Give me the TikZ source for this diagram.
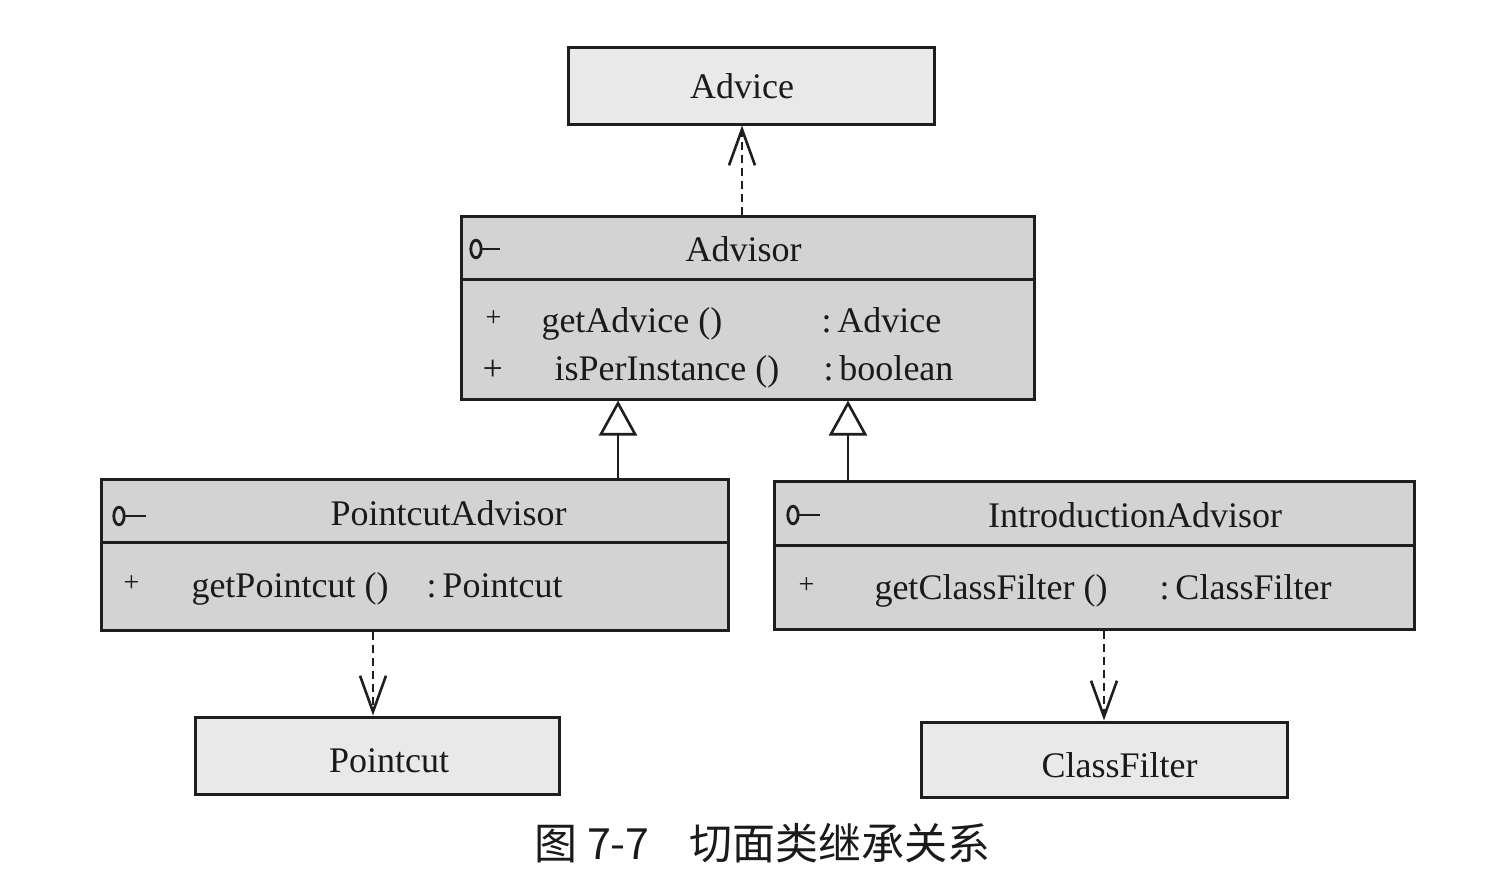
\documentclass[tikz,border=0pt]{standalone}
\usepackage{fontspec}
\setmainfont{Liberation Serif}
\newfontfamily\cjkfont{Noto Sans CJK SC}
\usetikzlibrary{arrows.meta}
\definecolor{linec}{HTML}{1E1E1E}
\definecolor{classfill}{HTML}{D3D3D3}
\definecolor{smallfill}{HTML}{E9E9E9}
\definecolor{textc}{HTML}{1A1A1A}
\begin{document}
\begin{tikzpicture}[x=0.5pt,y=-0.5pt,line width=1.5pt,draw=linec,
  classbox/.style={draw=linec,fill=classfill,inner sep=0pt},
  smallbox/.style={draw=linec,fill=smallfill,inner sep=0pt},
  txt/.style={font=\fontsize{18}{20}\selectfont,text=textc,inner sep=0pt,anchor=base west},
  ttl/.style={font=\fontsize{18}{20}\selectfont,text=textc,inner sep=0pt,anchor=base},
  plus/.style={font=\fontsize{14}{16}\selectfont,text=textc,inner sep=0pt,anchor=base west},
  captxt/.style={font=\cjkfont\fontsize{21.5}{24}\selectfont,text=textc,inner sep=0pt,anchor=base west},
  dep/.style={draw=linec,line width=1.3pt,dash pattern=on 4pt off 2.5pt,-{Straight Barb[length=18pt,width=13pt]}},
  inh/.style={draw=linec,line width=1.3pt,-{Triangle[open,fill=white,length=17.5pt,width=19pt]}},
  icon/.style={draw=linec,line width=1.4pt}]
\useasboundingbox (0,0) rectangle (1488,884);

% ---------- boxes ----------
\node[smallbox,minimum width=183pt,minimum height=38.5pt] (advice) at (751,85.5) {};
\node[ttl] (advicet) at (742,98) {Advice};

\node[classbox,minimum width=286.5pt,minimum height=91.5pt] (advisor) at (747.5,307.5) {};
\draw (advisor.west |- 0,279) -- (advisor.east |- 0,279);
\node[ttl] (advisort) at (743.5,261) {Advisor};
\draw[icon] (476,249) ellipse [x radius=2.6pt, y radius=4.4pt];
\draw[icon] (481,249) -- (500,249);
\node[plus] (advp1) at (484,326) {+};
\node[txt] (advm1) at (540,332) {getAdvice ()};
\node[txt] (advr1) at (820,332) {:\,Advice};
\node[txt] (advp2) at (481,380) {+};
\node[txt] (advm2) at (553,380) {isPerInstance ()};
\node[txt] (advr2) at (822,380) {:\,boolean};

\node[classbox,minimum width=313.5pt,minimum height=75.5pt] (pca) at (414.5,554.5) {};
\draw (pca.west |- 0,542) -- (pca.east |- 0,542);
\node[ttl] (pcat) at (448.5,525) {PointcutAdvisor};
\draw[icon] (119,516) ellipse [x radius=2.6pt, y radius=4.4pt];
\draw[icon] (124,516) -- (146,516);
\node[plus] (pcap1) at (122,591) {+};
\node[txt] (pcam1) at (190,597) {getPointcut ()};
\node[txt] (pcar1) at (425,597) {:\,Pointcut};

\node[classbox,minimum width=320pt,minimum height=74pt] (ia) at (1094,555) {};
\draw (ia.west |- 0,545) -- (ia.east |- 0,545);
\node[ttl] (iat) at (1135,527) {IntroductionAdvisor};
\draw[icon] (793,515) ellipse [x radius=2.6pt, y radius=4.4pt];
\draw[icon] (798,515) -- (820,515);
\node[plus] (iap1) at (797,593) {+};
\node[txt] (iam1) at (873,599) {getClassFilter ()};
\node[txt] (iar1) at (1158,599) {:\,ClassFilter};

\node[smallbox,minimum width=182pt,minimum height=38.5pt] (pointcut) at (377,755.5) {};
\node[ttl] (pointcutt) at (389,772) {Pointcut};

\node[smallbox,minimum width=183pt,minimum height=37.5pt] (classfilter) at (1104,759.5) {};
\node[ttl] (classfiltert) at (1119.5,777) {ClassFilter};

% ---------- connectors ----------
\draw[dep] (742,0 |- advisor.north) -- (742,0 |- advice.south);
\draw[dep] (373,0 |- pca.south) -- (373,0 |- pointcut.north);
\draw[dep] (1104,0 |- ia.south) -- (classfilter.north);
\draw[inh] (618,0 |- pca.north) -- (618,0 |- advisor.south);
\draw[inh] (848,0 |- ia.north) -- (848,0 |- advisor.south);

% ---------- caption ----------
\node[captxt] (capnum) at (533,859) {图 7-7};
\node[captxt] (captext) at (688,859) {切面类继承关系};
\end{tikzpicture}
\end{document}
